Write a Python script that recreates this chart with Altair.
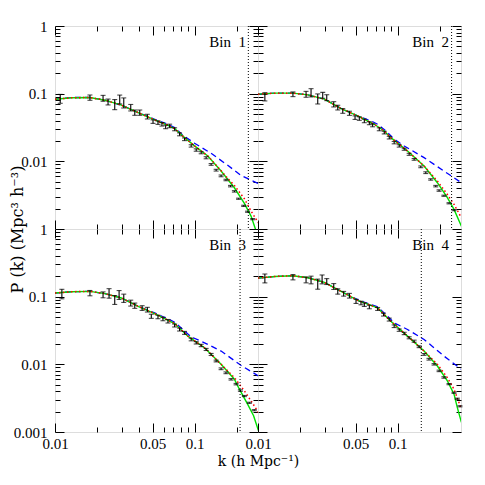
import altair as alt
import pandas as pd

W, H = 203, 203
XDOM = [0.01, 0.285]
YDOM = [0.001, 1.0]
FONT = "Liberation Serif"
TFONT = "DejaVu Serif"

BIN_LABELS = ["Bin\u00a0\u00a01", "Bin\u00a0\u00a02", "Bin\u00a0\u00a03", "Bin\u00a0\u00a04"]
KMAX = [0.243, 0.244, 0.212, 0.148]

MAJOR_X = [0.01, 0.05, 0.1]
MINOR_X = [0.02, 0.03, 0.04, 0.06, 0.07, 0.08, 0.09, 0.2]
MAJOR_Y_TOP = [0.01, 0.1, 1.0]
MAJOR_Y_BOTTOM = [0.001, 0.01, 0.1, 1.0]
MINOR_Y = [0.002, 0.003, 0.004, 0.005, 0.006, 0.007, 0.008, 0.009,
           0.02, 0.03, 0.04, 0.05, 0.06, 0.07, 0.08, 0.09,
           0.2, 0.3, 0.4, 0.5, 0.6, 0.7, 0.8, 0.9]

# ---------------- measured band powers ----------------
k_pts_1 = [0.0109, 0.0178, 0.0221, 0.0240, 0.0268, 0.0291, 0.0311, 0.0349, 0.0373, 0.0405, 0.0459,
           0.0504, 0.0547, 0.0584, 0.0621, 0.0663, 0.0720, 0.0781, 0.0848, 0.0946, 0.1028, 0.1116,
           0.1211, 0.1315, 0.1428, 0.155, 0.168, 0.181, 0.193, 0.207, 0.225, 0.240, 0.261]
p_pts_1 = [0.0848, 0.0877, 0.0858, 0.0757, 0.0699, 0.0829, 0.0740, 0.0624, 0.0526, 0.0526, 0.0459,
           0.0387, 0.0374, 0.0353, 0.0323, 0.0334, 0.0298, 0.0251, 0.0212, 0.0169, 0.0147, 0.0134,
           0.0113, 0.0090, 0.0074, 0.0061, 0.0053, 0.0043, 0.0036, 0.0028, 0.0022, 0.0018, 0.0014]
e_pts_1 = [0.15, 0.09, 0.10, 0.10, 0.17, 0.15, 0.17, 0.11, 0.09, 0.09, 0.08, 0.06, 0.06, 0.06, 0.06,
           0.06, 0.05, 0.05, 0.045, 0.04, 0.04, 0.035, 0.035, 0.03, 0.03, 0.03, 0.025, 0.025, 0.025,
           0.02, 0.02, 0.02, 0.02]

k_pts_2 = [0.0112, 0.0178, 0.0221, 0.0240, 0.0268, 0.0291, 0.0311, 0.0349, 0.0373, 0.0405, 0.0452,
           0.0496, 0.0532, 0.0578, 0.0628, 0.0663, 0.0740, 0.0803, 0.0872, 0.0946, 0.1028, 0.1116,
           0.1211, 0.1315, 0.1468, 0.1594, 0.173, 0.1879, 0.1985, 0.215, 0.2339, 0.254]
p_pts_2 = [0.0908, 0.0983, 0.0983, 0.104, 0.0848, 0.0950, 0.0877, 0.0699, 0.0624, 0.0557, 0.0514,
           0.0443, 0.0429, 0.0396, 0.0366, 0.0341, 0.0298, 0.0266, 0.0224, 0.0189, 0.0169, 0.0151,
           0.0127, 0.0107, 0.0083, 0.0068, 0.0054, 0.0043, 0.0037, 0.0031, 0.0024, 0.0019]
e_pts_2 = [0.14, 0.08, 0.10, 0.14, 0.17, 0.10, 0.10, 0.09, 0.08, 0.08, 0.07, 0.06, 0.06, 0.06, 0.05,
           0.05, 0.05, 0.045, 0.045, 0.04, 0.04, 0.035, 0.035, 0.03, 0.03, 0.03, 0.025, 0.025, 0.025,
           0.02, 0.02, 0.02]

k_pts_3 = [0.0112, 0.0178, 0.0221, 0.0244, 0.0268, 0.0288, 0.0311, 0.0349, 0.0373, 0.0421, 0.0459,
           0.0490, 0.0547, 0.0594, 0.0645, 0.0720, 0.0781, 0.0848, 0.0946, 0.1028, 0.1116, 0.1211,
           0.1315, 0.1428, 0.155, 0.168, 0.1827, 0.1985, 0.2131, 0.2276, 0.247, 0.268]
p_pts_3 = [0.1107, 0.1132, 0.107, 0.1132, 0.0903, 0.107, 0.0956, 0.0807, 0.0738, 0.0681, 0.0644,
           0.0514, 0.0502, 0.0469, 0.0434, 0.0375, 0.0327, 0.0292, 0.0233, 0.0208, 0.0190, 0.0166,
           0.0140, 0.0112, 0.0086, 0.0075, 0.0060, 0.0051, 0.0041, 0.0034, 0.0027, 0.0021]
e_pts_3 = [0.16, 0.09, 0.10, 0.16, 0.15, 0.15, 0.14, 0.10, 0.09, 0.08, 0.08, 0.07, 0.06, 0.06, 0.06,
           0.05, 0.05, 0.05, 0.045, 0.04, 0.04, 0.035, 0.035, 0.03, 0.03, 0.03, 0.025, 0.025, 0.025,
           0.02, 0.02, 0.02]

k_pts_4 = [0.0112, 0.0178, 0.0221, 0.0240, 0.0268, 0.0288, 0.0311, 0.0349, 0.0373, 0.0411, 0.0452,
           0.0504, 0.0547, 0.0578, 0.0628, 0.0720, 0.0794, 0.0872, 0.0946, 0.1028, 0.1116, 0.1211,
           0.1315, 0.1428, 0.155, 0.168, 0.1827, 0.1985, 0.215, 0.2339, 0.254, 0.268, 0.280]
p_pts_4 = [0.188, 0.1946, 0.1778, 0.1778, 0.1553, 0.1819, 0.168, 0.1419, 0.1198, 0.1107, 0.1035,
           0.0854, 0.0807, 0.0763, 0.0705, 0.0659, 0.0544, 0.0459, 0.0366, 0.0320, 0.0286, 0.0247,
           0.0220, 0.0182, 0.0140, 0.0119, 0.0100, 0.0080, 0.0064, 0.0051, 0.0038, 0.0031, 0.0024]
e_pts_4 = [0.15, 0.09, 0.10, 0.13, 0.17, 0.15, 0.10, 0.10, 0.09, 0.08, 0.08, 0.07, 0.06, 0.06, 0.06,
           0.05, 0.05, 0.05, 0.045, 0.04, 0.04, 0.035, 0.035, 0.03, 0.03, 0.03, 0.025, 0.025, 0.025,
           0.02, 0.02, 0.02, 0.02]

# ---------------- model curves ----------------
# blue dashed (linear)
k_lin_1 = [0.0100, 0.0132, 0.0178, 0.0228, 0.0299, 0.0394, 0.0518, 0.0645, 0.0720, 0.0825, 0.1000, 0.1315, 0.173, 0.215, 0.285]
p_lin_1 = [0.0829, 0.0877, 0.0877, 0.0801, 0.0676, 0.0526, 0.0419, 0.0353, 0.0315, 0.0243, 0.0185, 0.01315, 0.00873, 0.00621, 0.0047]
k_lin_2 = [0.0100, 0.0132, 0.0178, 0.0228, 0.0299, 0.0394, 0.0518, 0.0645, 0.0720, 0.0825, 0.0946, 0.1116, 0.155, 0.215, 0.287]
p_lin_2 = [0.0983, 0.1017, 0.1017, 0.0961, 0.0829, 0.0603, 0.0469, 0.0396, 0.0353, 0.0281, 0.0212, 0.01687, 0.01133, 0.00719, 0.00483]
k_lin_3 = [0.0100, 0.0132, 0.0178, 0.0228, 0.0299, 0.0394, 0.0518, 0.0645, 0.0720, 0.0825, 0.0946, 0.1179, 0.155, 0.215, 0.287]
p_lin_3 = [0.1132, 0.1184, 0.1198, 0.1107, 0.0956, 0.0721, 0.0575, 0.0469, 0.0419, 0.0327, 0.0255, 0.0208, 0.0157, 0.00967, 0.00674]
k_lin_4 = [0.0100, 0.0132, 0.0178, 0.0228, 0.0299, 0.0394, 0.0518, 0.0645, 0.0720, 0.0825, 0.0946, 0.1179, 0.155, 0.215, 0.287]
p_lin_4 = [0.188, 0.199, 0.2037, 0.1903, 0.1624, 0.1198, 0.0903, 0.0763, 0.0705, 0.0544, 0.0410, 0.0327, 0.0233, 0.01326, 0.00844]

# green solid (non-linear model)
k_nl_1 = [0.0100, 0.0132, 0.0178, 0.0228, 0.0299, 0.0394, 0.0518, 0.0645, 0.0720, 0.0848, 0.1000, 0.1245, 0.155, 0.193, 0.2276, 0.254, 0.274]
p_nl_1 = [0.0829, 0.0870, 0.0877, 0.0801, 0.0676, 0.0526, 0.0410, 0.0341, 0.0305, 0.0224, 0.0169, 0.0120, 0.00719, 0.00407, 0.00239, 0.00155, 0.00098]
k_nl_2 = [0.0100, 0.0132, 0.0178, 0.0228, 0.0299, 0.0394, 0.0518, 0.0681, 0.0803, 0.0896, 0.1179, 0.155, 0.193, 0.2276, 0.254, 0.287]
p_nl_2 = [0.0983, 0.1017, 0.1017, 0.0961, 0.0829, 0.0603, 0.0469, 0.0353, 0.0281, 0.0224, 0.0142, 0.00853, 0.00483, 0.0029, 0.00195, 0.0011]
k_nl_3 = [0.0100, 0.0132, 0.0178, 0.0228, 0.0299, 0.0394, 0.0518, 0.0720, 0.0896, 0.1179, 0.155, 0.193, 0.2096, 0.240, 0.265, 0.287]
p_nl_3 = [0.1132, 0.1184, 0.1198, 0.1107, 0.0956, 0.0721, 0.0562, 0.0401, 0.0261, 0.0176, 0.0100, 0.00602, 0.00429, 0.00258, 0.00174, 0.00105]
k_nl_4 = [0.0100, 0.0132, 0.0178, 0.0228, 0.0299, 0.0394, 0.0518, 0.0720, 0.0896, 0.1179, 0.155, 0.193, 0.2276, 0.254, 0.268, 0.287]
p_nl_4 = [0.188, 0.199, 0.2037, 0.1903, 0.1624, 0.1198, 0.0883, 0.0681, 0.0434, 0.0261, 0.0157, 0.00945, 0.00569, 0.00362, 0.00231, 0.00139]

# red dotted (alternative non-linear model)
k_hf_1 = [0.0100, 0.0132, 0.0178, 0.0228, 0.0299, 0.0394, 0.0518, 0.0645, 0.0720, 0.0848, 0.1000, 0.1245, 0.155, 0.173, 0.193, 0.2276, 0.254, 0.287]
p_hf_1 = [0.0829, 0.0870, 0.0877, 0.0801, 0.0676, 0.0526, 0.0410, 0.0341, 0.0305, 0.0224, 0.0169, 0.0120, 0.00725, 0.0056, 0.0044, 0.0028, 0.00184, 0.00123]
k_hf_2 = [0.0100, 0.0132, 0.0178, 0.0228, 0.0299, 0.0394, 0.0518, 0.0681, 0.0803, 0.0896, 0.1179, 0.155, 0.193, 0.2276, 0.254, 0.287]
p_hf_2 = [0.0983, 0.1017, 0.1017, 0.0961, 0.0829, 0.0603, 0.0469, 0.0353, 0.0281, 0.0224, 0.0142, 0.00853, 0.00511, 0.00324, 0.00231, 0.00146]
k_hf_3 = [0.0100, 0.0132, 0.0178, 0.0228, 0.0299, 0.0394, 0.0518, 0.0720, 0.0896, 0.1179, 0.155, 0.193, 0.2276, 0.254, 0.287]
p_hf_3 = [0.1132, 0.1184, 0.1198, 0.1107, 0.0956, 0.0721, 0.0562, 0.0401, 0.0261, 0.0176, 0.0100, 0.00637, 0.00405, 0.00289, 0.00195]
k_hf_4 = [0.0100, 0.0132, 0.0178, 0.0228, 0.0299, 0.0394, 0.0518, 0.0720, 0.0896, 0.1179, 0.155, 0.193, 0.2276, 0.254, 0.287]
p_hf_4 = [0.188, 0.199, 0.2037, 0.1903, 0.1624, 0.1198, 0.0883, 0.0681, 0.0434, 0.0261, 0.0157, 0.0100, 0.00637, 0.00429, 0.00218]

PTS = [(k_pts_1, p_pts_1, e_pts_1), (k_pts_2, p_pts_2, e_pts_2),
       (k_pts_3, p_pts_3, e_pts_3), (k_pts_4, p_pts_4, e_pts_4)]
LIN = [(k_lin_1, p_lin_1), (k_lin_2, p_lin_2), (k_lin_3, p_lin_3), (k_lin_4, p_lin_4)]
NL = [(k_nl_1, p_nl_1), (k_nl_2, p_nl_2), (k_nl_3, p_nl_3), (k_nl_4, p_nl_4)]
HF = [(k_hf_1, p_hf_1), (k_hf_2, p_hf_2), (k_hf_3, p_hf_3), (k_hf_4, p_hf_4)]

MAJ, MIN = 9, 5


def panel(i, row, col):
    xs = alt.Scale(type="log", domain=XDOM, nice=False)
    ys = alt.Scale(type="log", domain=YDOM, nice=False)

    xkw = dict(orient="bottom", values=MAJOR_X, tickSize=MAJ, offset=-MAJ, domain=False, grid=False,
               labels=(row == 1), labelPadding=4, labelFontSize=15, labelFont=FONT, format="~g",
               labelFlush=False, labelOverlap=False, tickColor="black", labelColor="black")
    if row == 1 and col == 0:
        xkw.update(title="k (h Mpc\u207b\u00b9)", titleX=W, titleFont=TFONT, titleFontSize=14,
                   titleFontWeight="normal", titlePadding=3, titleColor="black")
    else:
        xkw.update(title=None)
    ykw = dict(orient="left", values=(MAJOR_Y_BOTTOM if row == 1 else MAJOR_Y_TOP), tickSize=MAJ,
               offset=-MAJ, domain=False, grid=False, labels=(col == 0), labelPadding=8,
               labelFontSize=15, labelFont=FONT, format="~g", labelFlush=False, labelOverlap=False,
               tickColor="black", labelColor="black")
    if row == 0 and col == 0:
        ykw.update(title="P (k) (Mpc\u00b3 h\u207b\u00b3)", titleY=H, titleX=-39, titleFont=TFONT,
                   titleFontSize=16, titleFontWeight="normal", titleColor="black")
    else:
        ykw.update(title=None)

    X = lambda f: alt.X(f"{f}:Q", scale=xs, axis=alt.Axis(**xkw))
    Y = lambda f: alt.Y(f"{f}:Q", scale=ys, axis=alt.Axis(**ykw))

    kd, pdv, ed = PTS[i]
    df_pts = pd.DataFrame({"k": kd, "P": pdv, "e": ed})
    df_pts["lo"] = df_pts["P"] * (1 - df_pts["e"])
    df_pts["hi"] = df_pts["P"] * (1 + df_pts["e"])
    df_lin = pd.DataFrame({"k": LIN[i][0], "P": LIN[i][1]})
    df_nl = pd.DataFrame({"k": NL[i][0], "P": NL[i][1]})
    df_hf = pd.DataFrame({"k": HF[i][0], "P": HF[i][1]})
    df_kmax = pd.DataFrame({"k": [KMAX[i]]})
    df_lab = pd.DataFrame({"t": [BIN_LABELS[i]]})

    blue = alt.Chart(df_lin).mark_line(color="#0000ff", strokeDash=[6, 4], strokeWidth=1.3, clip=True).encode(x=X("k"), y=Y("P"))
    green = alt.Chart(df_nl).mark_line(color="#00e000", strokeWidth=1.4, clip=True).encode(x=X("k"), y=Y("P"))
    red = alt.Chart(df_hf).mark_line(color="#ff0000", strokeDash=[1.5, 2.5], strokeWidth=1.5, clip=True).encode(x=X("k"), y=Y("P"))
    kline = alt.Chart(df_kmax).mark_rule(color="black", strokeDash=[1, 2], strokeWidth=1).encode(x=X("k"))
    bars = alt.Chart(df_pts).mark_rule(color="black", strokeWidth=1.1).encode(x=X("k"), y=Y("lo"), y2="hi")
    cap_lo = alt.Chart(df_pts).mark_tick(color="black", orient="horizontal", size=5, thickness=1.1).encode(x=X("k"), y=Y("lo"))
    cap_hi = alt.Chart(df_pts).mark_tick(color="black", orient="horizontal", size=5, thickness=1.1).encode(x=X("k"), y=Y("hi"))
    label = alt.Chart(df_lab).mark_text(align="right", baseline="middle", font=FONT, fontSize=15, color="black").encode(
        x=alt.value(W - 12), y=alt.value(16), text="t:N")

    main = alt.layer(blue, green, red, kline, bars, cap_lo, cap_hi, label)

    dummy = pd.DataFrame({"k": [0.1], "P": [0.1]})

    def tick_layer(xo, yo, xv, yv, size):
        return alt.Chart(dummy).mark_point(opacity=0).encode(
            x=alt.X("k:Q", scale=xs, axis=alt.Axis(orient=xo, values=xv, tickSize=size, offset=-size,
                                                   labels=False, domain=False, grid=False, title=None,
                                                   tickColor="black")),
            y=alt.Y("P:Q", scale=ys, axis=alt.Axis(orient=yo, values=yv, tickSize=size, offset=-size,
                                                   labels=False, domain=False, grid=False, title=None,
                                                   tickColor="black")))

    minor_lb = tick_layer("bottom", "left", MINOR_X, MINOR_Y, MIN)
    major_tr = tick_layer("top", "right", MAJOR_X, MAJOR_Y_BOTTOM, MAJ)
    minor_tr = tick_layer("top", "right", MINOR_X, MINOR_Y, MIN)

    return alt.layer(main, minor_lb, major_tr, minor_tr).resolve_scale(
        x="independent", y="independent").properties(width=W, height=H)


chart = alt.concat(panel(0, 0, 0), panel(1, 0, 1), panel(2, 1, 0), panel(3, 1, 1),
                   columns=2, spacing=0, bounds="flush").properties(
    padding={"left": 0, "top": 10, "right": 0, "bottom": 0}
).configure_view(stroke="black", strokeWidth=1.8).configure(background="white")

chart.save("out.html", embed_options={"renderer": "svg", "actions": False})
